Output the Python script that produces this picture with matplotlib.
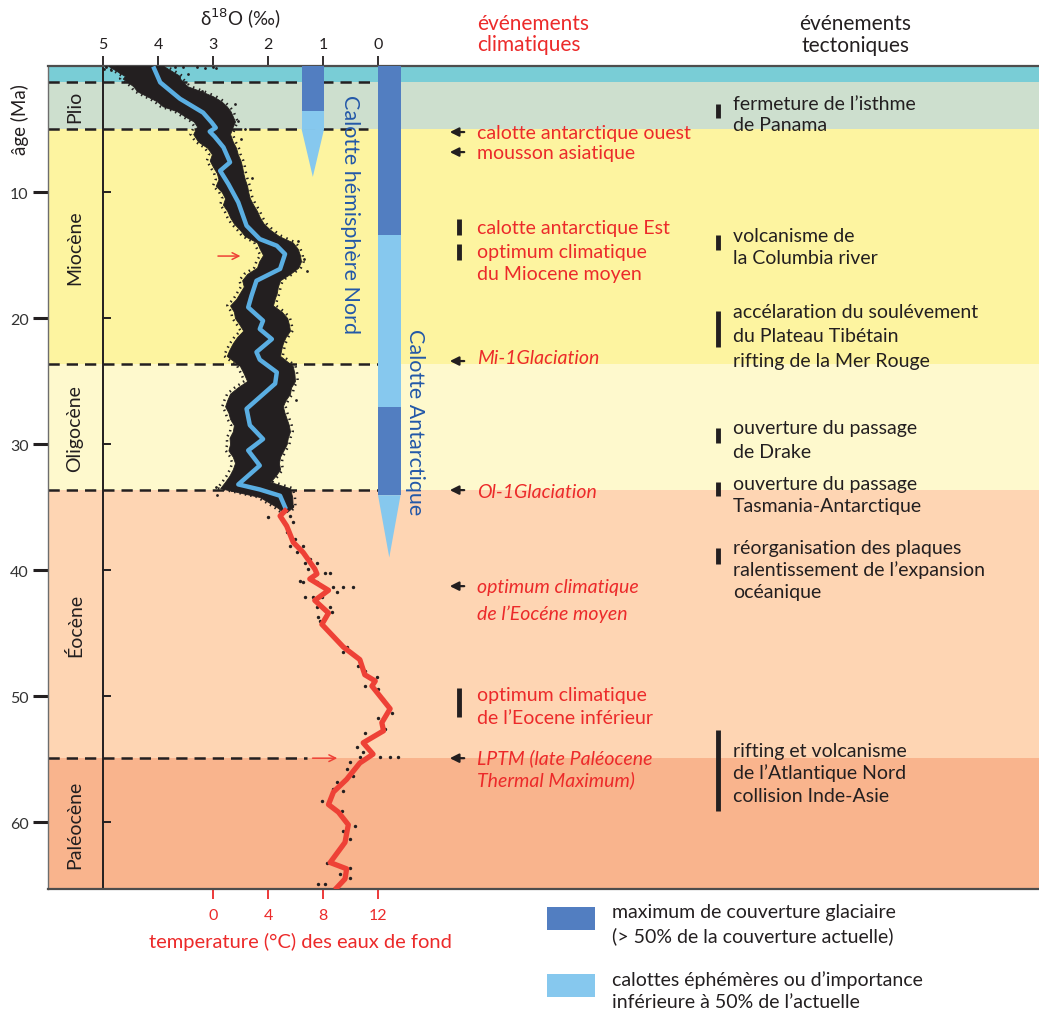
import matplotlib
matplotlib.use("Agg")
import matplotlib.pyplot as plt
import matplotlib.transforms as mtransforms
from matplotlib.patches import Rectangle

plt.rcParams["font.family"] = ["Lato", "DejaVu Sans"]

W, H = 1039, 1012

# ---- smoothed benthic d18O record (age in Ma, d18O in per mil) ----
cool_age = [0.2, 1.3, 2.6, 3.7, 4.5, 4.9, 5.2, 5.6, 6.45, 7.64, 8.31, 9.37, 10.82,
            12.67, 13.73, 14.26, 14.92, 16.1, 17.04, 18.23, 19.15, 20.21, 20.87,
            21.67, 22.7, 23.3, 24.3, 25.2, 27.2, 28.5, 29.6, 30.5, 31.7, 33.2,
            33.6, 34.1, 35.0]
cool_d18o = [4.07, 3.96, 3.6, 3.18, 3.02, 2.95, 3.06, 2.97, 2.81, 2.69, 2.87, 2.72,
             2.54, 2.39, 2.15, 1.84, 1.69, 1.78, 2.21, 2.30, 2.36, 2.09, 2.15,
             1.93, 2.21, 2.15, 1.84, 1.87, 2.39, 2.33, 2.09, 2.36, 2.15, 2.54,
             2.15, 1.78, 1.69]
warm_age = [35.3, 35.7, 36.5, 37.8, 38.6, 39.9, 40.3, 40.7, 41.6, 42.4, 43.4, 44.3,
            46.1, 47.1, 48.3, 48.8, 49.2, 51.0, 52.1, 52.75, 53.7, 54.6, 55.3,
            56.6, 57.6, 58.6, 59.2, 60.2, 61.6, 63.2, 63.7, 64.5, 65.2]
warm_d18o = [1.69, 1.78, 1.66, 1.54, 1.36, 1.15, 1.11, 1.24, 0.90, 1.15, 0.90, 1.02,
             0.63, 0.33, 0.24, 0.05, 0.11, -0.22, -0.07, -0.10, 0.27, 0.09, 0.33,
             0.57, 0.81, 0.90, 0.72, 0.54, 0.60, 0.87, 0.57, 0.60, 0.75]

# ---- spread of the raw measurements, 0-35 Ma ----
cloud_age = [0.0, 0.4, 0.8, 1.0, 1.6, 2.0, 2.4, 2.8, 3.2, 3.6, 4.0, 4.4, 4.8, 5.4,
             6.0, 6.5, 7.0, 7.5, 8.0, 8.5, 9.0, 9.5, 10.0, 10.5, 11.0, 11.5, 12.0,
             12.5, 13.0, 13.5, 14.0, 14.5, 15.0, 15.5, 16.0, 16.5, 17.0, 17.5,
             18.0, 18.5, 19.0, 19.5, 20.0, 20.5, 21.0, 21.5, 22.0, 22.5, 23.0,
             23.8, 24.4, 25.0, 25.5, 26.0, 26.5, 27.0, 27.5, 28.0, 28.5, 29.0,
             29.5, 30.0, 30.5, 31.0, 31.5, 32.0, 32.5, 33.0, 33.5, 34.2, 35.0, 35.4]
cloud_left = [4.9, 4.75, 4.6, 4.64, 4.45, 4.38, 4.2, 4.02, 3.91, 3.65, 3.51, 3.35,
              3.29, 3.36, 3.27, 3.1, 3.02, 3.06, 3.0, 2.93, 2.9, 2.95, 2.84, 2.78,
              2.82, 2.74, 2.69, 2.62, 2.51, 2.42, 2.2, 2.15, 2.09, 2.16, 2.2, 2.38,
              2.47, 2.44, 2.51, 2.58, 2.69, 2.62, 2.6, 2.52, 2.45, 2.56, 2.64, 2.7,
              2.75, 2.51, 2.44, 2.38, 2.55, 2.69, 2.74, 2.78, 2.72, 2.69, 2.62,
              2.64, 2.7, 2.69, 2.72, 2.64, 2.6, 2.64, 2.7, 2.78, 2.87, 2.15, 1.84,
              1.72]
cloud_right = [3.9, 3.75, 3.6, 3.6, 3.47, 3.22, 3.0, 2.85, 2.75, 2.68, 2.64, 2.6,
               2.64, 2.69, 2.64, 2.58, 2.55, 2.5, 2.47, 2.45, 2.42, 2.38, 2.36,
               2.33, 2.27, 2.2, 2.15, 2.08, 1.96, 1.8, 1.55, 1.46, 1.42, 1.4, 1.45,
               1.6, 1.78, 1.82, 1.84, 1.88, 1.91, 1.75, 1.65, 1.62, 1.6, 1.68,
               1.73, 1.76, 1.78, 1.55, 1.52, 1.51, 1.58, 1.6, 1.68, 1.73, 1.7, 1.66,
               1.62, 1.6, 1.64, 1.66, 1.72, 1.78, 1.8, 1.78, 1.86, 1.96, 1.6, 1.56,
               1.55, 1.66]
# isolated measurements outside the dense cloud
stray_age = [0.05, 0.05, 0.06, 0.08, 0.1, 0.1, 0.12, 0.15, 0.2, 0.3, 0.5, 0.6, 2.0,
             3.0, 4.4, 5.0, 5.8, 8.9, 13.9, 15.3, 16.3, 26.5, 33.4, 34.0]
stray_d18o = [3.0, 3.3, 3.55, 4.95, 4.75, 3.7, 3.15, 2.95, 4.98, 4.85, 4.7, 3.45,
              3.2, 2.6, 2.55, 2.42, 2.5, 2.3, 1.45, 1.35, 1.3, 1.5, 2.95, 2.92]

# ---- raw measurements, Eocene-Paleocene ----
raw_age = [34.1, 34.4, 34.4, 34.9, 35.8, 35.7, 36.2, 37.0, 37.5, 38.1, 38.1, 39.1,
           39.4, 38.6, 39.4, 39.9, 40.2, 40.2, 40.9, 40.95, 40.95, 41.35, 41.35,
           41.35, 41.7, 42.1, 42.1, 42.1, 42.9, 42.95, 43.3, 43.7, 44.0, 45.2,
           46.1, 46.5, 47.6, 48.0, 48.5, 49.2, 49.4, 50.2, 51.3, 51.7, 52.6, 52.9,
           53.2, 54.0, 54.4, 54.8, 54.8, 54.8, 54.8, 55.2, 55.8, 56.3, 56.8, 57.4,
           57.5, 58.3, 58.8, 59.1, 60.3, 60.7, 61.3, 61.9, 63.2, 63.6, 64.1, 64.4,
           64.9, 64.9]
raw_d18o = [2.09, 1.96, 1.6, 1.56, 2.0, 1.6, 1.54, 1.65, 1.51, 1.6, 1.36, 1.24,
            1.11, 1.47, 1.33, 1.27, 0.96, 0.87, 1.42, 1.36, 1.11, 0.82, 0.64, 0.45,
            0.75, 1.33, 1.18, 1.02, 1.11, 0.87, 0.84, 1.09, 1.05, 0.82, 0.56, 0.64,
            0.36, 0.24, 0.02, 0.24, 0.0, -0.09, -0.25, 0.0, -0.13, 0.24, 0.09,
            0.38, 0.27, 0.33, -0.04, -0.22, -0.36, 0.51, 0.56, 0.45, 0.75, 0.82,
            0.64, 1.02, 0.84, 0.65, 0.42, 0.64, 0.51, 0.65, 0.93, 0.51, 0.69, 0.51,
            1.09, 0.96]

# ---- geological time scale ----
epoch_bounds = [0.0, 1.27, 5.0, 23.65, 33.65, 54.9, 65.3]
epoch_names = ["", "Plio", "Miocène", "Oligocène", "Éocène", "Paléocène"]
epoch_colors = ["#79cdd6", "#cddfce", "#fdf4a0", "#fef9cd", "#fed5b3", "#f9b48d"]
age_ticks = [10, 20, 30, 40, 50, 60]
d18o_ticks = [5, 4, 3, 2, 1, 0]
temp_ticks = [0, 4, 8, 12]

# ---- ice sheets (start Ma, end Ma, extent) ----
nh_ice = [(0.0, 3.55, "full"), (3.55, 5.0, "partial")]
nh_taper = (5.0, 8.8)
ant_ice = [(0.0, 13.4, "full"), (13.4, 27.06, "partial"), (27.06, 34.05, "full")]
ant_taper = (34.05, 39.0)

# ---- events ----
climate_labels = [
    ("calotte antarctique ouest", 5.24, "normal"),
    ("mousson asiatique", 6.83, "normal"),
    ("calotte antarctique Est", 12.78, "normal"),
    ("optimum climatique", 14.68, "normal"),
    ("du Miocene moyen", 16.5, "normal"),
    ("Mi-1Glaciation", 23.1, "italic"),
    ("Ol-1Glaciation", 33.73, "italic"),
    ("optimum climatique", 41.27, "italic"),
    ("de l\u2019Eocéne moyen", 43.41, "italic"),
    ("optimum climatique", 49.84, "normal"),
    ("de l\u2019Eocene inférieur", 51.67, "normal"),
    ("LPTM (late Paléocene", 54.84, "italic"),
    ("Thermal Maximum)", 56.59, "italic"),
]
climate_arrows = [5.24, 6.83, 23.41, 33.65, 41.27, 54.92]
climate_spans = [(12.14, 13.41), (14.13, 15.4), (49.37, 51.67)]

tectonic_labels = [
    ("fermeture de l\u2019isthme", 2.94), ("de Panama", 4.68),
    ("volcanisme de", 13.41), ("la Columbia river", 15.16),
    ("accélaration du soulévement", 19.44), ("du Plateau Tibétain", 21.35),
    ("rifting de la Mer Rouge", 23.33),
    ("ouverture du passage", 28.65), ("de Drake", 30.56),
    ("ouverture du passage", 33.1), ("Tasmania-Antarctique", 34.84),
    ("réorganisation des plaques", 38.17),
    ("ralentissement de l\u2019expansion", 39.92), ("océanique", 41.67),
    ("rifting et volcanisme", 54.29), ("de l\u2019Atlantique Nord", 56.03),
    ("collision Inde-Asie", 57.86),
]
tectonic_spans = [(3.02, 4.13), (13.41, 14.6), (19.44, 22.3), (28.73, 29.92),
                  (33.0, 34.13), (38.25, 39.52), (52.7, 59.13)]

RED = "#ec2a2a"
DARK = "#231f20"
ICE_FULL = "#527ec1"
ICE_PART = "#86c8ee"
CURVE_BLUE = "#5aaee2"
CURVE_RED = "#ee4136"
CAP_BLUE = "#2358a8"

fig = plt.figure(figsize=(W / 100, H / 100), dpi=100)
ax = fig.add_axes([48 / W, (H - 890) / H, (W - 48) / W, (890 - 67) / H])
ax.set_xlim(6.0, 5.0 - (W - 103) / 55.0)
ax.set_ylim(65.3, 0.0)


def fx(px):
    """horizontal position in axes fraction from a pixel column"""
    return (px - 48) / (W - 48)


blend = mtransforms.blended_transform_factory(ax.transAxes, ax.transData)

# epoch bands
for top, bot, col in zip(epoch_bounds[:-1], epoch_bounds[1:], epoch_colors):
    ax.axhspan(top, bot, color=col, lw=0, zorder=0)

# dashed epoch boundaries
dash_ends = [0.15, 0.18, 0.0, 0.0, 1.3]
for b, e in zip(epoch_bounds[1:-1], dash_ends):
    ax.plot([6.0, e], [b, b], color=DARK, lw=1.8, ls=(0, (4.5, 2.8)), zorder=2)

# epoch names
for top, bot, name in zip(epoch_bounds[:-1], epoch_bounds[1:], epoch_names):
    if name:
        ax.text(5.51, (top + bot) / 2, name, rotation=90, ha="center", va="center",
                fontsize=14, color=DARK, zorder=5)

# axis line at 5 per mil with inner ticks
ax.plot([5.0, 5.0], [0, 65.3], color=DARK, lw=1.4, zorder=2)
for a in age_ticks:
    ax.plot([5.0, 4.87], [a, a], color=DARK, lw=1.4, zorder=2)


# ice sheets
def draw_ice(phases, taper, x0, x1):
    for top, bot, kind in phases:
        ax.fill_betweenx([top, bot], x0, x1, color=ICE_FULL if kind == "full" else ICE_PART,
                         lw=0, zorder=3)
    ax.fill([x0, x1, (x0 + x1) / 2], [taper[0], taper[0], taper[1]],
            color=ICE_PART, lw=0, zorder=3)


draw_ice(nh_ice, nh_taper, 1.39, 0.98)
draw_ice(ant_ice, ant_taper, 0.0, -0.41)

ax.text(0.51, 11.67, "Calotte hémisphère Nord", rotation=-90, ha="center", va="center",
        fontsize=15.5, color=CAP_BLUE, zorder=5)
ax.text(-0.67, 28.2, "Calotte Antarctique", rotation=-90, ha="center", va="center",
        fontsize=15.5, color=CAP_BLUE, zorder=5)

# raw data: dense cloud with ragged, speckled margins
ax.fill_betweenx(cloud_age, cloud_left, cloud_right, color=DARK, lw=0.6, zorder=3)
ax.plot([v + 0.05 for v in cloud_left], cloud_age, color=DARK, lw=1.8,
        ls=(0, (0.6, 1.6)), zorder=3)
ax.plot([v - 0.05 for v in cloud_right], cloud_age, color=DARK, lw=1.8,
        ls=(0.8, (0.6, 1.9)), zorder=3)
ax.scatter(stray_d18o, stray_age, s=4, color=DARK, lw=0, zorder=3)
ax.scatter(raw_d18o, raw_age, s=6, color=DARK, lw=0, zorder=3)

# smoothed curves
ax.plot(cool_d18o, cool_age, color=CURVE_BLUE, lw=3.2, solid_joinstyle="round", zorder=4)
ax.plot(warm_d18o, warm_age, color=CURVE_RED, lw=3.8, solid_joinstyle="round", zorder=4)

# red pointers on the curve
for age, xa, xb in [(15.08, 2.96, 2.45), (54.92, 1.24, 0.69)]:
    ax.annotate("", xy=(xb, age), xytext=(xa, age),
                arrowprops=dict(arrowstyle="->", color=CURVE_RED, lw=1.1,
                                mutation_scale=12), zorder=5)

# climatic events
for txt, age, style in climate_labels:
    ax.text(fx(477), age, txt, transform=blend, ha="left", va="center",
            fontsize=14, color=RED, style=style, zorder=5)
for age in climate_arrows:
    ax.annotate("", xy=(fx(447), age), xytext=(fx(467), age),
                xycoords=blend, textcoords=blend,
                arrowprops=dict(arrowstyle="-|>", color=DARK, lw=1.6, mutation_scale=13),
                zorder=5)
for top, bot in climate_spans:
    ax.plot([fx(459), fx(459)], [top, bot], transform=blend, color=DARK, lw=3.5,
            solid_capstyle="butt", zorder=5)

# tectonic events
for txt, age in tectonic_labels:
    ax.text(fx(733), age, txt, transform=blend, ha="left", va="center",
            fontsize=14, color=DARK, zorder=5)
for top, bot in tectonic_spans:
    ax.plot([fx(718), fx(718)], [top, bot], transform=blend, color=DARK, lw=3.5,
            solid_capstyle="butt", zorder=5)

# frame and axes
ax.spines["right"].set_visible(False)
ax.spines["top"].set_color("#4d4d4d")
ax.spines["top"].set_linewidth(1.6)
ax.spines["bottom"].set_color("#4d4d4d")
ax.spines["bottom"].set_linewidth(1.6)
ax.spines["left"].set_color("#6d6d6d")
ax.spines["left"].set_linewidth(1.0)

ax.xaxis.tick_top()
ax.set_xticks(d18o_ticks)
ax.set_xticklabels([str(t) for t in d18o_ticks])
ax.tick_params(axis="x", direction="out", length=7.5, width=1.3, color=DARK,
               labelsize=11.5, labelcolor=DARK, pad=3)
ax.set_yticks(age_ticks)
ax.set_yticklabels([str(t) for t in age_ticks])
ax.tick_params(axis="y", direction="out", length=11, width=2.2, color=DARK,
               labelsize=11.5, labelcolor="#333333", pad=3)

sec = ax.secondary_xaxis("bottom", functions=(lambda d: (3 - d) * 4, lambda t: 3 - t / 4))
sec.set_xticks(temp_ticks)
sec.set_xticklabels([str(t) for t in temp_ticks])
sec.spines["bottom"].set_visible(False)
sec.tick_params(axis="x", direction="out", length=7.5, width=1.3, color=RED,
                labelsize=11.5, labelcolor=RED, pad=6)

ax.text(2.5, -48 / 12.6, "δ$^{18}$O (‰)", ha="center", va="center",
        fontsize=13.5, color=DARK)


def fpos(px, py):
    return px / W, 1 - py / H


fig.text(*fpos(300, 942), "temperature (°C) des eaux de fond", ha="center", va="center",
         fontsize=14.5, color=RED)
fig.text(*fpos(20, 120), "âge (Ma)", rotation=90, ha="center", va="center",
         fontsize=13.5, color=DARK)

fig.text(*fpos(477, 24), "événements", ha="left", va="center", fontsize=15, color=RED)
fig.text(*fpos(477, 45), "climatiques", ha="left", va="center", fontsize=15, color=RED)
fig.text(*fpos(855, 24), "événements", ha="center", va="center", fontsize=15, color=DARK)
fig.text(*fpos(855, 46), "tectoniques", ha="center", va="center", fontsize=15, color=DARK)

# legend
legend_rows = [(ICE_FULL, 908, ["maximum de couverture glaciaire",
                                "(> 50% de la couverture actuelle)"]),
               (ICE_PART, 975, ["calottes éphémères ou d\u2019importance",
                                "inférieure à 50% de l\u2019actuelle"])]
for col, ytop, lines in legend_rows:
    fig.add_artist(Rectangle((547 / W, 1 - (ytop + 23) / H), 48 / W, 23 / H,
                             transform=fig.transFigure, color=col, lw=0))
    fig.text(*fpos(612, ytop + 5), lines[0], ha="left", va="center", fontsize=14, color=DARK)
    fig.text(*fpos(612, ytop + 28), lines[1], ha="left", va="center", fontsize=14, color=DARK)

fig.savefig("out.png", dpi=100)
